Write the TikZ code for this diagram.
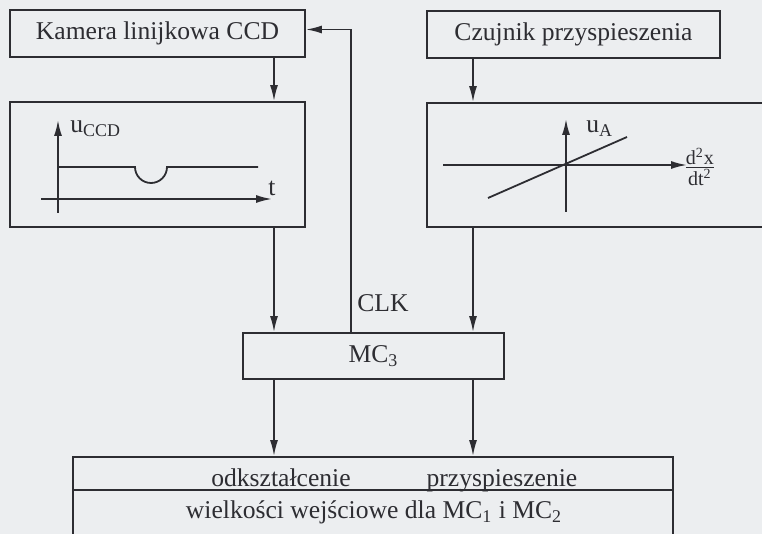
\documentclass[tikz,border=0pt]{standalone}
\usepackage{fontspec}
\setmainfont{Liberation Serif}
\usetikzlibrary{arrows.meta}
\definecolor{paper}{RGB}{236,238,240}
\definecolor{ink}{RGB}{45,45,50}
\tikzset{
  blok/.style={draw=ink, text=ink, line width=0.9pt, inner sep=0pt, font=\fontsize{12.8}{15}\selectfont},
  arr/.style={draw=ink, line width=0.9pt, -{Latex[length=8pt,width=4pt]}},
  lin/.style={draw=ink, line width=0.9pt},
  lbl/.style={text=ink, inner sep=0pt, font=\fontsize{12.8}{15}\selectfont},
}

\begin{document}
\begin{tikzpicture}[x=0.5pt,y=-0.5pt]
		%%%%% START %%%%%
		\useasboundingbox (0,0) rectangle (762,534);
		\fill[paper] (0,0) rectangle (762,534);
		\clip (0,0) rectangle (762,534);
		
		\coordinate (xl) at (274,0);
		\coordinate (xc) at (351,0);
		\coordinate (xr) at (473,0);
		
		\node[blok, minimum width=147.5pt, minimum height=23.5pt] (kam) at (157.5,33.5) {Kamera linijkowa CCD};
		\node[blok, minimum width=146.5pt, minimum height=23.5pt] (czuj) at (573.5,34.5) {Czujnik przyspieszenia};
		\node[blok, minimum width=147.5pt, minimum height=62.5pt] (ccd) at (157.5,164.5) {};
		\node[blok, minimum width=171.5pt, minimum height=62pt] (acc) at (598.5,165) {};
		\node[blok, minimum width=130.5pt, minimum height=23pt] (mc3) at (373.5,356) {MC\textsubscript{3}};
		\node[blok, minimum width=300pt, minimum height=16.5pt] (pasek) at (373,473.5) {};
		\node[blok, minimum width=300pt, minimum height=35pt] (dol) at (373,525) {};
		
		% przebieg CCD
		\draw[arr] (58,213) -- (58,120);
		\draw[arr] (41,199) -- (272,199);
		\draw[lin] (58,167) -- (135,167) arc[start angle=180, end angle=360, radius=8pt] -- (258,167);
		\node[lbl, anchor=base west] (uccd) at (70,133) {u\textsubscript{CCD}};
		\node[lbl, anchor=south west] (t) at (268,196) {t};
		
		% charakterystyka czujnika
		\draw[arr] (566,212) -- (566,119);
		\draw[arr] (443,165) -- (687,165);
		\draw[lin] (488,198) -- (627,137);
		\node[lbl, anchor=base west] (ua) at (586,133) {u\textsubscript{A}};
		\node[lbl, anchor=west, font=\fontsize{10}{12}\selectfont] (d2x) at (683,167) {$\frac{\mbox{d\textsuperscript{2}x}}{\mbox{dt\textsuperscript{2}}}$};
		
		% polaczenia
		\draw[arr] (kam.south -| xl) -- (ccd.north -| xl);
		\draw[arr] (ccd.south -| xl) -- (mc3.north -| xl);
		\draw[arr] (czuj.south -| xr) -- (acc.north -| xr);
		\draw[arr] (acc.south -| xr) -- (mc3.north -| xr);
		\draw[arr] (mc3.north -| xc) |- ([yshift=2pt]kam.east);
		\node[lbl, anchor=west] (clk) at (357,303) {CLK};
		\draw[arr] (mc3.south -| xl) -- (pasek.north -| xl);
		\draw[arr] (mc3.south -| xr) -- (pasek.north -| xr);
		
		\node[lbl, anchor=base] (odk) at (281,487) {odkształcenie};
		\node[lbl, anchor=base] (przy) at (502,487) {przyspieszenie};
		\node[lbl, anchor=base] (wej) at (374,519) {wielkości wejściowe dla MC\textsubscript{1} i MC\textsubscript{2}};
		%%%%% END %%%%%
\end{tikzpicture}
\end{document}
